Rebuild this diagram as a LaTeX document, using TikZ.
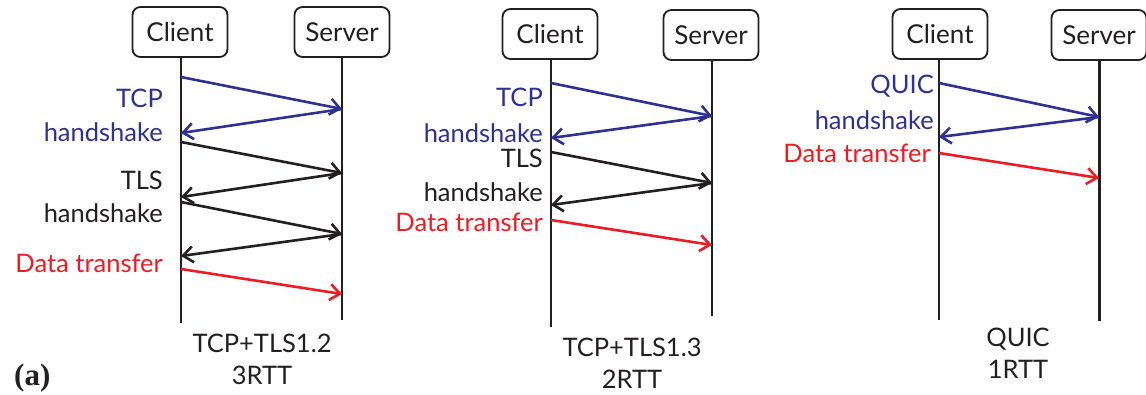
\documentclass[tikz,border=0pt]{standalone}
\usepackage{fontspec}
\setmainfont{Lato}
\newfontfamily\serifb{Liberation Serif}
\usetikzlibrary{arrows.meta}
\definecolor{qblue}{RGB}{46,49,146}
\definecolor{qred}{RGB}{237,28,36}
\definecolor{qtext}{RGB}{35,31,32}
\begin{document}
\begin{tikzpicture}[x=1pt,y=-1pt,
  actor/.style={draw=qtext, line width=1.8pt, rounded corners=8pt, minimum width=95pt, minimum height=50pt, inner sep=0pt, text=qtext, font=\fontsize{26}{30}\selectfont},
  life/.style={line width=2.2pt, draw=qtext},
  msg/.style={line width=2.6pt, -{Straight Barb[length=10pt,width=16pt,line width=2.6pt]}},
  bmsg/.style={msg, draw=qblue},
  kmsg/.style={msg, draw=qtext},
  rmsg/.style={msg, draw=qred},
  lbl/.style={anchor=east, inner sep=0pt, font=\fontsize{25.5}{30}\selectfont},
  captext/.style={align=center, inner sep=0pt, text=qtext, font=\fontsize{25.5}{32}\selectfont}
]
\useasboundingbox (0,0) rectangle (1146,394);

% ---------- Panel 1 ----------
\node[actor] (c1) at (180,32) {Client};
\node[actor] (s1) at (342,32) {Server};
\coordinate (c1e) at (181,323);
\coordinate (s1e) at (342,320);
\draw[life] (c1.south -| c1e) -- (c1e);
\draw[life] (s1.south -| s1e) -- (s1e);
\coordinate (p1a) at (181,77);  \coordinate (p1b) at (342,109);
\coordinate (p1c) at (181,133); \coordinate (p1d) at (181,142);
\coordinate (p1e) at (342,173); \coordinate (p1f) at (181,197);
\coordinate (p1g) at (181,202); \coordinate (p1h) at (342,234);
\coordinate (p1i) at (181,256); \coordinate (p1j) at (181,269);
\coordinate (p1k) at (342,294);
\draw[bmsg] (p1a) -- (p1b);
\draw[bmsg] (p1b) -- (p1c);
\draw[kmsg] (p1d) -- (p1e);
\draw[kmsg] (p1e) -- (p1f);
\draw[kmsg] (p1g) -- (p1h);
\draw[kmsg] (p1h) -- (p1i);
\draw[rmsg] (p1j) -- (p1k);
\node[lbl, text=qblue] (l1a) at (163,98) {TCP};
\node[lbl, text=qblue] (l1b) at (163,132) {handshake};
\node[lbl, text=qtext] (l1c) at (163,180) {TLS};
\node[lbl, text=qtext] (l1d) at (163,213) {handshake};
\node[lbl, text=qred] (l1e) at (163,263) {Data transfer};
\node[captext] (t1) at (262,359) {TCP+TLS1.2\\3RTT};
\node[anchor=west, inner sep=0pt, text=qtext, font=\serifb\bfseries\fontsize{31}{34}\selectfont] (lab) at (14,378) {(a)};

% ---------- Panel 2 ----------
\node[actor] (c2) at (550,34) {Client};
\node[actor] (s2) at (711,35) {Server};
\coordinate (c2e) at (551,327);
\coordinate (s2e) at (712,316);
\draw[life] (c2.south -| c2e) -- (c2e);
\draw[life] (s2.south -| s2e) -- (s2e);
\coordinate (p2a) at (551,83);  \coordinate (p2b) at (712,116);
\coordinate (p2c) at (551,138); \coordinate (p2d) at (551,152);
\coordinate (p2e) at (712,183); \coordinate (p2f) at (551,205);
\coordinate (p2g) at (551,220); \coordinate (p2h) at (712,245);
\draw[bmsg] (p2a) -- (p2b);
\draw[bmsg] (p2b) -- (p2c);
\draw[kmsg] (p2d) -- (p2e);
\draw[kmsg] (p2e) -- (p2f);
\draw[rmsg] (p2g) -- (p2h);
\node[lbl, text=qblue] (l2a) at (543,97) {TCP};
\node[lbl, text=qblue] (l2b) at (543,133) {handshake};
\node[lbl, text=qtext] (l2c) at (543,158) {TLS};
\node[lbl, text=qtext] (l2d) at (543,192) {handshake};
\node[lbl, text=qred] (l2e) at (543,222) {Data transfer};
\node[captext] (t2) at (632,363) {TCP+TLS1.3\\2RTT};

% ---------- Panel 3 ----------
\node[actor] (c3) at (940,34) {Client};
\node[actor] (s3) at (1099,35) {Server};
\coordinate (c3e) at (939,320);
\coordinate (s3e) at (1099,321);
\draw[life] (c3.south -| c3e) -- (c3e);
\draw[life, line width=3pt] (s3.south -| s3e) -- (s3e);
\coordinate (p3a) at (939,83);  \coordinate (p3b) at (1099,117);
\coordinate (p3c) at (939,137); \coordinate (p3d) at (939,153);
\coordinate (p3e) at (1099,178);
\draw[bmsg] (p3a) -- (p3b);
\draw[bmsg] (p3b) -- (p3c);
\draw[rmsg] (p3d) -- (p3e);
\node[lbl, text=qblue] (l3a) at (934,86) {QUIC};
\node[lbl, text=qblue] (l3b) at (934,120) {handshake};
\node[lbl, text=qred] (l3c) at (931,153) {Data transfer};
\node[captext] (t3) at (1018,353) {QUIC\\1RTT};
\end{tikzpicture}
\end{document}
